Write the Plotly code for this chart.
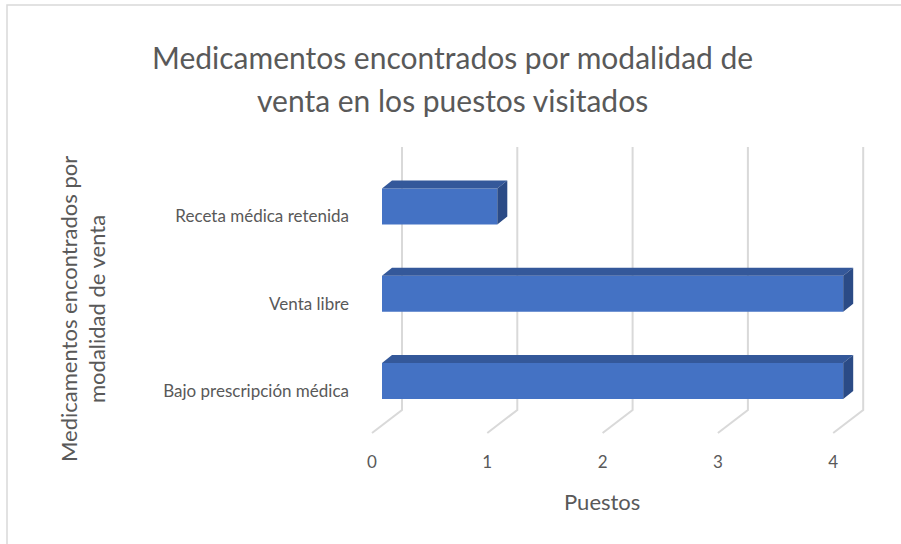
import plotly.graph_objects as go

# ---- data ----
categories = ["Bajo prescripción médica", "Venta libre", "Receta médica retenida"]
values = [4, 4, 1]
x_ticks = [0, 1, 2, 3, 4]
title_lines = ["Medicamentos encontrados por modalidad de", "venta en los puestos visitados"]
y_title_lines = ["Medicamentos encontrados por", "modalidad de venta"]
x_title = "Puestos"

# ---- style / geometry ----
W, H = 901, 544
L, R, T, B = 360, 880, 140, 445
X0PX, XUNIT = 382.0, 115.3     # pixel of value 0 on the bar front face, px per unit
Y0PX, YUNIT = 381.0, 87.25     # pixel of first category centre, px per category
FONT = "Lato"
TXT = "#595959"
FRONT, TOP, SIDE = "#4472C4", "#34589A", "#2B4B86"
GRID = "#d9d9d9"

def px2x(p):
    return (p - X0PX) / XUNIT

def py2y(p):
    return (Y0PX - p) / YUNIT

xr = [px2x(L), px2x(R)]
yr = [py2y(B), py2y(T)]
BAR_H = 36 / YUNIT
DX, DY = 10 / XUNIT, 8 / YUNIT
GB, GF = 20 / XUNIT, -10 / XUNIT
G_TOP, G_BASE, G_FRONT = py2y(147), py2y(410), py2y(433)

ks = list(range(len(categories)))

fig = go.Figure()
fig.add_trace(go.Bar(
    x=values, y=ks, orientation="h", width=BAR_H,
    marker=dict(color=FRONT, line=dict(width=0)), hoverinfo="skip", showlegend=False))

tx, ty, sx, sy = [], [], [], []
for k, v in zip(ks, values):
    top = k + BAR_H / 2
    bot = k - BAR_H / 2
    tx += [0, v, v + DX, DX, 0, None]
    ty += [top, top, top + DY, top + DY, top, None]
    sx += [v, v, v + DX, v + DX, v, None]
    sy += [bot, top, top + DY, bot + DY, bot, None]
fig.add_trace(go.Scatter(x=tx, y=ty, mode="lines", fill="toself", fillcolor=TOP,
                         line=dict(width=0, color=TOP), hoverinfo="skip", showlegend=False))
fig.add_trace(go.Scatter(x=sx, y=sy, mode="lines", fill="toself", fillcolor=SIDE,
                         line=dict(width=0, color=SIDE), hoverinfo="skip", showlegend=False))

shapes = []
for v in x_ticks:
    shapes.append(dict(type="path", layer="below", xref="x", yref="y",
                       path=f"M {v+GB} {G_TOP} L {v+GB} {G_BASE} L {v+GF} {G_FRONT}",
                       line=dict(color=GRID, width=2)))
# chart border
def pxp(p):
    return (p - L) / (R - L)
def pyp(p):
    return (B - p) / (B - T)
shapes.append(dict(type="rect", xref="paper", yref="paper",
                   x0=pxp(7), x1=pxp(910), y0=pyp(560), y1=pyp(5),
                   line=dict(color=GRID, width=1.5), layer="below"))

annotations = []
annotations.append(dict(text=title_lines[0], x=pxp(452), y=pyp(57), xref="paper", yref="paper",
                        showarrow=False, xanchor="center", yanchor="middle",
                        font=dict(family=FONT, size=30, color=TXT)))
annotations.append(dict(text=title_lines[1], x=pxp(452), y=pyp(100), xref="paper", yref="paper",
                        showarrow=False, xanchor="center", yanchor="middle",
                        font=dict(family=FONT, size=30, color=TXT)))
annotations.append(dict(text=y_title_lines[0], x=pxp(68), y=pyp(309), xref="paper", yref="paper",
                        showarrow=False, xanchor="center", yanchor="middle", textangle=-90,
                        font=dict(family=FONT, size=22, color=TXT)))
annotations.append(dict(text=y_title_lines[1], x=pxp(96), y=pyp(309), xref="paper", yref="paper",
                        showarrow=False, xanchor="center", yanchor="middle", textangle=-90,
                        font=dict(family=FONT, size=22, color=TXT)))
annotations.append(dict(text=x_title, x=pxp(602), y=pyp(502), xref="paper", yref="paper",
                        showarrow=False, xanchor="center", yanchor="middle",
                        font=dict(family=FONT, size=22, color=TXT)))

fig.update_layout(
    width=W, height=H,
    margin=dict(l=L, r=W - R, t=T, b=H - B, pad=0),
    paper_bgcolor="white", plot_bgcolor="rgba(0,0,0,0)",
    shapes=shapes, annotations=annotations, showlegend=False,
    xaxis=dict(range=xr, showgrid=False, zeroline=False, showline=False,
               tickmode="array", tickvals=[v + GF for v in x_ticks],
               ticktext=[str(v) for v in x_ticks], ticks="",
               ticklabelstandoff=5, fixedrange=True,
               tickfont=dict(family=FONT, size=17, color=TXT)),
    yaxis=dict(range=yr, showgrid=False, zeroline=False, showline=False,
               tickmode="array", tickvals=[k - 10 / YUNIT for k in ks],
               ticktext=categories, ticks="", ticklabelstandoff=10, fixedrange=True,
               tickfont=dict(family=FONT, size=17, color=TXT)),
)

fig.write_html("out.html", config={"displayModeBar": False},
               post_script="document.body.style.margin='0';")
